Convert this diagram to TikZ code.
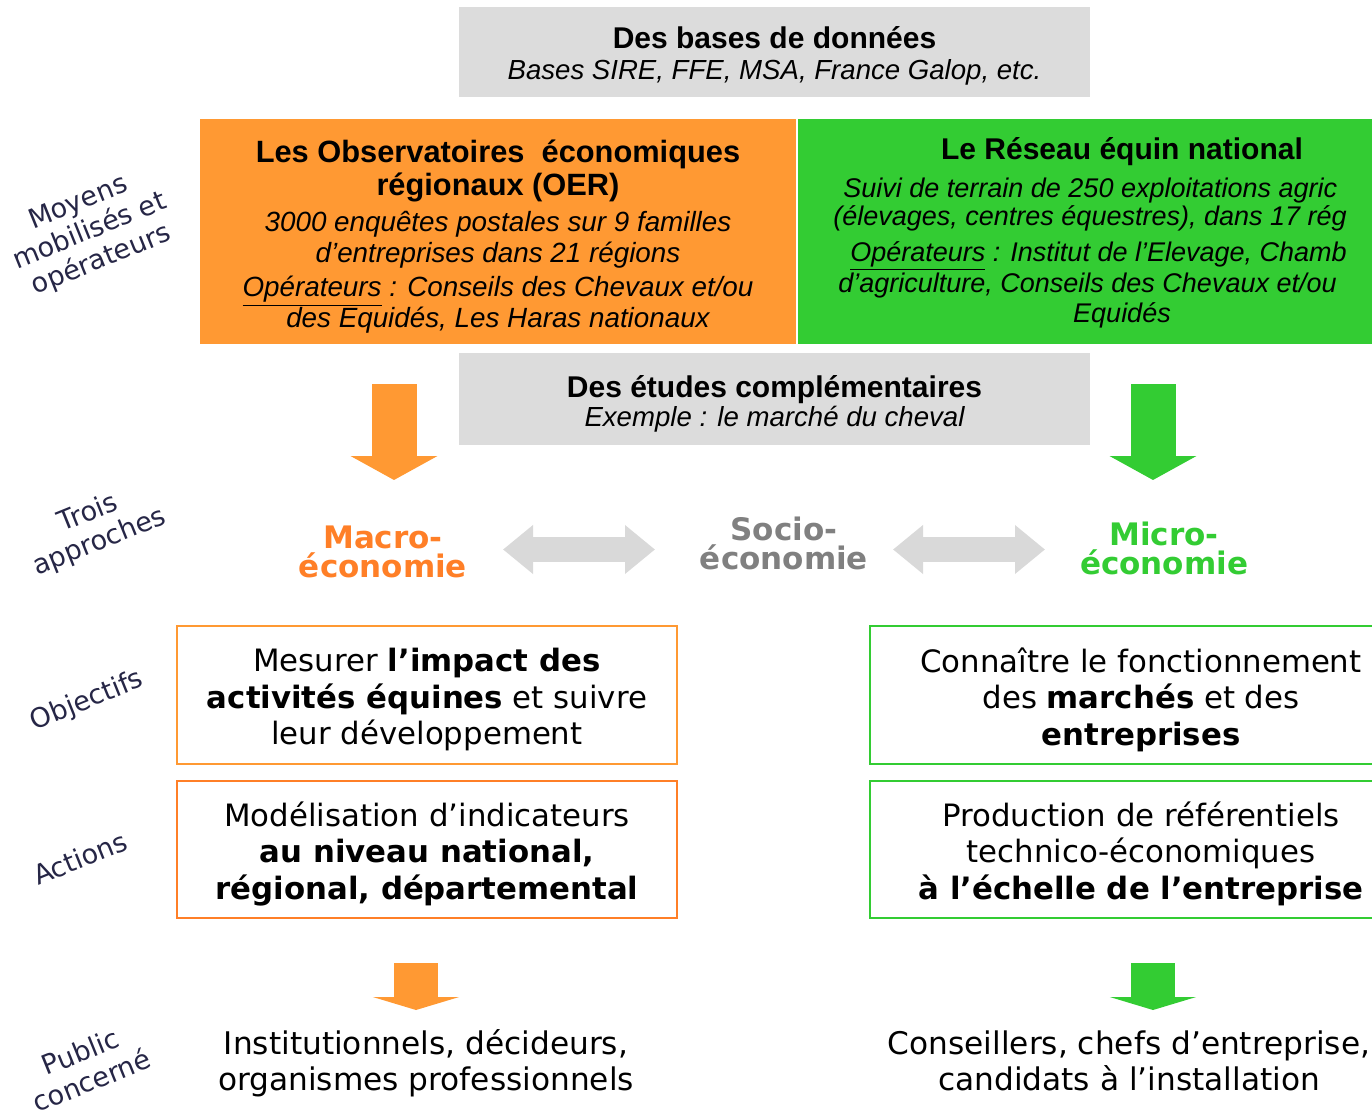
\documentclass[tikz,border=0pt]{standalone}
\usepackage{fontspec}
\setmainfont{DejaVu Sans}
\newfontfamily\arialfont{Liberation Sans}
\usetikzlibrary{arrows.meta}

\definecolor{oerorange}{RGB}{255,153,51}
\definecolor{macroorange}{RGB}{255,127,39}
\definecolor{reseaugreen}{RGB}{51,204,51}
\definecolor{boxgray}{RGB}{220,220,220}
\definecolor{arrowgray}{RGB}{217,217,217}
\definecolor{sociogray}{RGB}{128,128,128}
\definecolor{labelblue}{RGB}{38,38,70}

\begin{document}
\begin{tikzpicture} [x = 0.5pt, y = -0.5pt,
  sidelabel/.style = {rotate = 22, align = center, text = labelblue,
    font = \fontsize{13.5}{15.5}\selectfont},
  graybox/.style = {fill = boxgray, minimum width = 315.5pt, inner sep = 0pt,
    align = center, font = \arialfont\fontsize{13.8}{14.5}\selectfont},
  colbox/.style = {inner sep = 0pt, align = center,
    font = \arialfont\fontsize{13.9}{15}\selectfont},
  reseauline/.style = {anchor = base west, inner sep = 0pt,
    font = \arialfont\itshape\fontsize{13.5}{15}\selectfont},
  approach/.style = {align = center, inner sep = 0pt,
    font = \bfseries\fontsize{15.5}{14.5}\selectfont},
  framebox/.style = {draw, line width = 1pt, minimum width = 250pt,
    minimum height = 69pt, inner sep = 0pt},
  boxtext/.style = {align = center, inner sep = 0pt,
    font = \fontsize{15.4}{18.25}\selectfont},
  bigarrow/.style = {line width = 22.5pt, -{Triangle[length = 12pt, width = 43pt]}},
  smallarrow/.style = {line width = 22pt, -{Triangle[length = 6.5pt, width = 43pt]}},
  twoway/.style = {arrowgray, line width = 12.5pt,
    {Triangle[length = 15pt, width = 23.5pt]}-{Triangle[length = 15pt, width = 23.5pt]}},
  publictext/.style = {align = center, inner sep = 0pt,
    font = \fontsize{15.6}{18}\selectfont}]

\useasboundingbox (0,0) rectangle (1372,1114);
\clip (0,0) rectangle (1372,1114);

% sources
\node (bases) [graybox, minimum height = 45pt] at (774.5,52) {};
\node (basestext) [graybox, fill = none] at (774.5,56)
  {{\bfseries\fontsize{15}{14.5}\selectfont Des bases de données}\\[1pt]
   {\itshape Bases SIRE, FFE, MSA, France Galop, etc.}};

\node (oer) [colbox, fill = oerorange, minimum width = 298pt,
  minimum height = 112.5pt] at (498,231.5) {};
\node (oertext) [colbox] at (498,236.5)
  {{\bfseries\fontsize{15.4}{15}\selectfont Les Observatoires~ économiques}\\[1.5pt]
   {\bfseries\fontsize{15.4}{15}\selectfont régionaux (OER)}\\[3pt]
   {\itshape 3000 enquêtes postales sur 9 familles}\\[0.5pt]
   {\itshape d’entreprises dans 21 régions}\\[2pt]
   {\itshape \underline{Opérateurs} : Conseils des Chevaux et/ou}\\[-1pt]
   {\itshape des Equidés, Les Haras nationaux}};

\node (reseau) [colbox, fill = reseaugreen, minimum width = 301pt,
  minimum height = 112.5pt, anchor = north west] at (798,119) {};
\node (reseautitle) [colbox, font = \arialfont\bfseries\fontsize{15}{15}\selectfont]
  at (1122,152) {Le Réseau équin national};
\node (suivi) [reseauline] at (843,197) {Suivi de terrain de 250 exploitations agric};
\node (elevages) [reseauline] at (833,225) {(élevages, centres équestres), dans 17 rég};
\node (operateurs) [reseauline] at (850,261)
  {\underline{Opérateurs} : Institut de l’Elevage, Chamb};
\node (chambres) [reseauline] at (838,292) {d’agriculture, Conseils des Chevaux et/ou};
\node (equides) [reseauline, anchor = base] at (1122,322) {Equidés};

\node (etudes) [graybox, minimum height = 46pt] at (774.5,399) {};
\node (etudestext) [graybox, fill = none] at (774.5,403.5)
  {{\bfseries\fontsize{15}{14.5}\selectfont Des études complémentaires}\\
   {\itshape Exemple : le marché du cheval}};

% approches
\coordinate (oertop) at (394,384);
\coordinate (oertip) at (394,480);
\coordinate (reseautop) at (1153,384);
\coordinate (reseautip) at (1153,480);
\draw [bigarrow, oerorange] (oertop) -- (oertip);
\draw [bigarrow, reseaugreen] (reseautop) -- (reseautip);

\node (macro) [approach, text = macroorange] at (383,552) {Macro-\\économie};
\node (socio) [approach, text = sociogray] at (784,543) {Socio-\\économie};
\node (micro) [approach, text = reseaugreen] at (1164,548) {Micro-\\économie};

\coordinate (macroright) at (503,549.5);
\coordinate (socioleft) at (655,549.5);
\coordinate (socioright) at (893,549.5);
\coordinate (microleft) at (1045,549.5);
\draw [twoway] (macroright) -- (socioleft);
\draw [twoway] (socioright) -- (microleft);

% objectifs et actions
\node (objmacro) [framebox, draw = oerorange] at (427,694.5) {};
\node (objmacrotext) [boxtext] at (427,699.5)
  {Mesurer \textbf{l’impact des}\\\textbf{activités équines} et suivre\\leur développement};
\node (actmacro) [framebox, draw = macroorange, minimum height = 68.5pt] at (427,849.5) {};
\node (actmacrotext) [boxtext] at (427,853.5)
  {Modélisation d’indicateurs\\\textbf{au niveau national,}\\\textbf{régional, départemental}};
\node (objmicro) [framebox, draw = reseaugreen, minimum width = 271pt] at (1141,694.5) {};
\node (objmicrotext) [boxtext] at (1141,699.5)
  {Connaître le fonctionnement\\des \textbf{marchés} et des\\\textbf{entreprises}};
\node (actmicro) [framebox, draw = reseaugreen, minimum width = 271pt,
  minimum height = 68.5pt] at (1141,849.5) {};
\node (actmicrotext) [boxtext] at (1141,853.5)
  {Production de référentiels\\technico-économiques\\\textbf{à l’échelle de l’entreprise}};

% public
\coordinate (macrotop) at (416,963);
\coordinate (macrotip) at (416,1010);
\coordinate (microtop) at (1153,963);
\coordinate (microtip) at (1153,1010);
\draw [smallarrow, oerorange] (macrotop) -- (macrotip);
\draw [smallarrow, reseaugreen] (microtop) -- (microtip);
\node (publicmacro) [publictext] at (426,1063.5)
  {Institutionnels, décideurs,\\organismes professionnels};
\node (publicmicro) [publictext] at (1129,1060.5)
  {Conseillers, chefs d’entreprise,\\candidats à l’installation};

% libelles
\node (moyens) [sidelabel] at (90,232) {Moyens\\mobilisés et\\opérateurs};
\node (trois) [sidelabel] at (94,528) {Trois\\approches};
\node (objectifs) [sidelabel] at (87,701) {Objectifs};
\node (actions) [sidelabel] at (80,858) {Actions};
\node (publiclabel) [sidelabel] at (86,1066) {Public\\concerné};
\end{tikzpicture}
\end{document}
